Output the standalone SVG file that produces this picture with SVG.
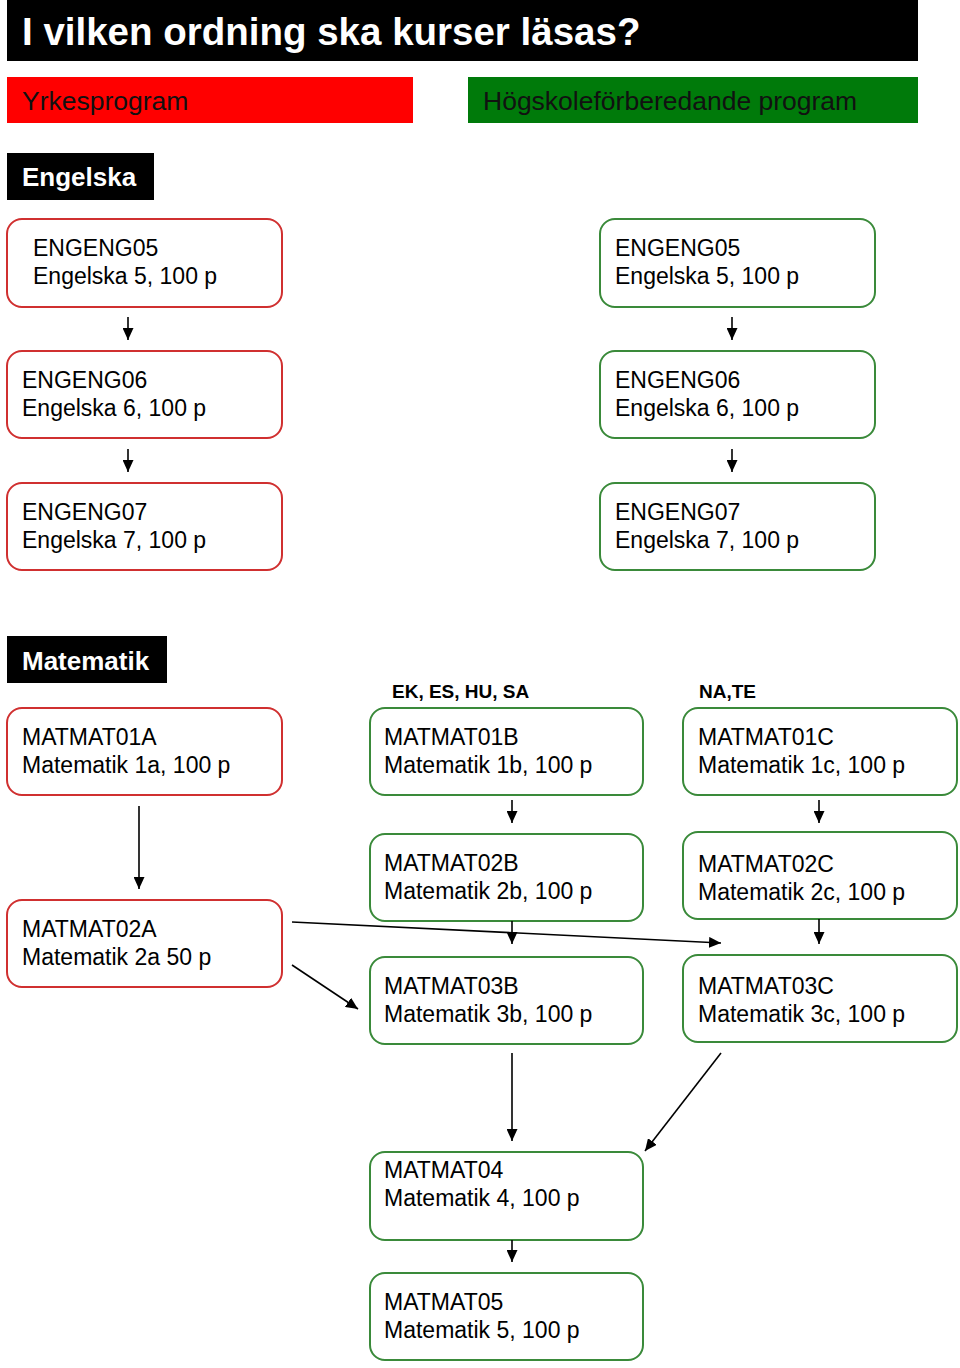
<svg xmlns="http://www.w3.org/2000/svg" width="960" height="1368" viewBox="0 0 960 1368">
<defs>
<style>
text{font-family:"Liberation Sans",Arial,Helvetica,sans-serif;}
.t{font-size:23px;fill:#000;}
.hb{font-size:26px;font-weight:bold;fill:#fff;}
.lb{font-size:19px;font-weight:bold;fill:#000;}
.bar{font-size:26.5px;fill:#111;}
.r{fill:#fff;stroke:#d03030;stroke-width:2;}
.g{fill:#fff;stroke:#3a8a3a;stroke-width:2;}
.c{stroke:#000;stroke-width:1.6;fill:none;marker-end:url(#ah);}
</style>
<marker id="ah" markerUnits="userSpaceOnUse" markerWidth="13" markerHeight="11" refX="12" refY="5.5" orient="auto">
<path d="M0,0 L12,5.5 L0,11 z" fill="#000"/>
</marker>
</defs>
<rect width="960" height="1368" fill="#fff"/>

<g id="title">
<rect x="7" y="0" width="911" height="61" fill="#000"/>
<text x="22" y="45" style="font-size:38.5px;font-weight:bold;fill:#fff">I vilken ordning ska kurser läsas?</text>
</g>
<g id="yrkesprogram">
<rect x="7" y="77" width="406" height="46" fill="#ff0000"/>
<text class="bar" x="22" y="110">Yrkesprogram</text>
</g>
<g id="hogskole">
<rect x="468" y="77" width="450" height="46" fill="#007a0a"/>
<text class="bar" x="483" y="110">Högskoleförberedande program</text>
</g>
<g id="engelska-label">
<rect x="7" y="153" width="147" height="47" fill="#000"/>
<text class="hb" x="22" y="186">Engelska</text>
</g>
<g id="matematik-label">
<rect x="7" y="636" width="160" height="47" fill="#000"/>
<text class="hb" x="22" y="670">Matematik</text>
</g>
<g id="label-ek">
<text class="lb" x="392" y="698">EK, ES, HU, SA</text>
</g>
<g id="label-na">
<text class="lb" x="699" y="698">NA,TE</text>
</g>

<g id="y-engeng05">
<rect class="r" x="7" y="219" width="275" height="88" rx="15"/>
<text class="t" x="33" y="256">ENGENG05</text>
<text class="t" x="33" y="284">Engelska 5, 100 p</text>
</g>
<g id="y-engeng06">
<rect class="r" x="7" y="351" width="275" height="87" rx="15"/>
<text class="t" x="22" y="388">ENGENG06</text>
<text class="t" x="22" y="416">Engelska 6, 100 p</text>
</g>
<g id="y-engeng07">
<rect class="r" x="7" y="483" width="275" height="87" rx="15"/>
<text class="t" x="22" y="520">ENGENG07</text>
<text class="t" x="22" y="548">Engelska 7, 100 p</text>
</g>
<g id="h-engeng05">
<rect class="g" x="600" y="219" width="275" height="88" rx="15"/>
<text class="t" x="615" y="256">ENGENG05</text>
<text class="t" x="615" y="284">Engelska 5, 100 p</text>
</g>
<g id="h-engeng06">
<rect class="g" x="600" y="351" width="275" height="87" rx="15"/>
<text class="t" x="615" y="388">ENGENG06</text>
<text class="t" x="615" y="416">Engelska 6, 100 p</text>
</g>
<g id="h-engeng07">
<rect class="g" x="600" y="483" width="275" height="87" rx="15"/>
<text class="t" x="615" y="520">ENGENG07</text>
<text class="t" x="615" y="548">Engelska 7, 100 p</text>
</g>

<g id="matmat01a">
<rect class="r" x="7" y="708" width="275" height="87" rx="15"/>
<text class="t" x="22" y="745">MATMAT01A</text>
<text class="t" x="22" y="773">Matematik 1a, 100 p</text>
</g>
<g id="matmat01b">
<rect class="g" x="370" y="708" width="273" height="87" rx="15"/>
<text class="t" x="384" y="745">MATMAT01B</text>
<text class="t" x="384" y="773">Matematik 1b, 100 p</text>
</g>
<g id="matmat01c">
<rect class="g" x="683" y="708" width="274" height="87" rx="15"/>
<text class="t" x="698" y="745">MATMAT01C</text>
<text class="t" x="698" y="773">Matematik 1c, 100 p</text>
</g>
<g id="matmat02a">
<rect class="r" x="7" y="900" width="275" height="87" rx="15"/>
<text class="t" x="22" y="937">MATMAT02A</text>
<text class="t" x="22" y="965">Matematik 2a 50 p</text>
</g>
<g id="matmat02b">
<rect class="g" x="370" y="834" width="273" height="87" rx="15"/>
<text class="t" x="384" y="871">MATMAT02B</text>
<text class="t" x="384" y="899">Matematik 2b, 100 p</text>
</g>
<g id="matmat02c">
<rect class="g" x="683" y="832" width="274" height="87" rx="15"/>
<text class="t" x="698" y="872">MATMAT02C</text>
<text class="t" x="698" y="900">Matematik 2c, 100 p</text>
</g>
<g id="matmat03b">
<rect class="g" x="370" y="957" width="273" height="87" rx="15"/>
<text class="t" x="384" y="994">MATMAT03B</text>
<text class="t" x="384" y="1022">Matematik 3b, 100 p</text>
</g>
<g id="matmat03c">
<rect class="g" x="683" y="955" width="274" height="87" rx="15"/>
<text class="t" x="698" y="994">MATMAT03C</text>
<text class="t" x="698" y="1022">Matematik 3c, 100 p</text>
</g>
<g id="matmat04">
<rect class="g" x="370" y="1152" width="273" height="88" rx="15"/>
<text class="t" x="384" y="1178">MATMAT04</text>
<text class="t" x="384" y="1206">Matematik 4, 100 p</text>
</g>
<g id="matmat05">
<rect class="g" x="370" y="1273" width="273" height="87" rx="15"/>
<text class="t" x="384" y="1310">MATMAT05</text>
<text class="t" x="384" y="1338">Matematik 5, 100 p</text>
</g>

<g id="connectors">
<line class="c" x1="128" y1="317" x2="128" y2="340"/>
<line class="c" x1="128" y1="449" x2="128" y2="472"/>
<line class="c" x1="732" y1="317" x2="732" y2="340"/>
<line class="c" x1="732" y1="449" x2="732" y2="472"/>
<line class="c" x1="139" y1="806" x2="139" y2="889"/>
<line class="c" x1="512" y1="800" x2="512" y2="823"/>
<line class="c" x1="819" y1="800" x2="819" y2="823"/>
<line class="c" x1="512" y1="921" x2="512" y2="944"/>
<line class="c" x1="819" y1="919" x2="819" y2="944"/>
<line class="c" x1="292" y1="922" x2="721" y2="943"/>
<line class="c" x1="292" y1="965" x2="358" y2="1009"/>
<line class="c" x1="512" y1="1053" x2="512" y2="1141"/>
<line class="c" x1="721" y1="1053" x2="645" y2="1151"/>
<line class="c" x1="512" y1="1240" x2="512" y2="1262"/>
</g>
</svg>
